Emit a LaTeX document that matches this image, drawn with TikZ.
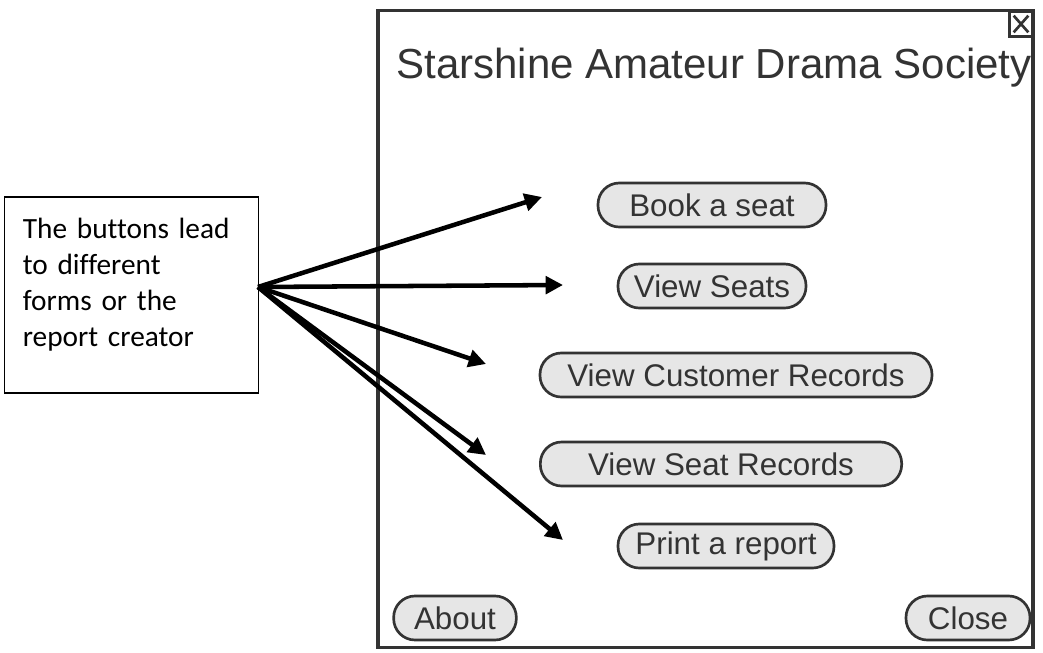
\documentclass[tikz,border=0pt]{standalone}
\usepackage{fontspec}
\setmainfont{Liberation Sans}
\newfontfamily\notefont[Ligatures=NoCommon]{Carlito}
\usetikzlibrary{arrows.meta}
\definecolor{uiline}{HTML}{333333}
\definecolor{uifill}{HTML}{E6E6E6}

\begin{document}
\begin{tikzpicture}[x=0.75pt,y=-0.75pt,
  frame/.style={draw=uiline,line width=2.6pt,minimum width=491pt,minimum height=478pt},
  button/.style={draw=uiline,fill=uifill,line width=2pt,rounded corners=16pt,minimum height=33pt,
    text=uiline,font=\fontsize{23.5}{27}\selectfont,inner sep=0pt},
  note/.style={draw,line width=0.8pt,minimum width=190pt,minimum height=147pt,text width=163pt,
    align=left,font=\notefont\fontsize{22}{27}\selectfont,inner xsep=13pt},
  pointer/.style={line width=3.4pt,-{Triangle[length=13pt,width=13pt]}}]
  \useasboundingbox (0,0) rectangle (1043,653);
  \node[frame] (window) at (705.5,329) {};
  \node[draw=uiline,line width=2.4pt,minimum width=17pt,minimum height=18.5pt,inner sep=0pt,
    path picture={\draw[uiline,line width=2pt]
      ([shift={(3pt,-3pt)}]path picture bounding box.north west) -- ([shift={(-3pt,3pt)}]path picture bounding box.south east)
      ([shift={(-3pt,-3pt)}]path picture bounding box.north east) -- ([shift={(3pt,3pt)}]path picture bounding box.south west);}]
    (closex) at (1021,24) {};
  \node[text=uiline,font=\fontsize{31.5}{36}\selectfont] (title) at (714,68) {Starshine Amateur Drama Society};
  \node[button,minimum width=171pt] (book) at (712,205) {Book a seat};
  \node[button,minimum width=141pt] (seats) at (712,286) {View Seats};
  \node[button,minimum width=294pt] (customers) at (736,375) {View Customer Records};
  \node[button,minimum width=271pt] (seatrecords) at (721,464) {View Seat Records};
  \node[button,minimum width=162pt] (report) at (726,546) {Print a report};
  \node[button,minimum width=92pt] (about) at (455,618) {About};
  \node[button,minimum width=93pt] (close) at (968,618) {Close};
  \node[note] (note) at (131.5,295) {The buttons lead\\to different\\forms or the\\report creator\rule[-19pt]{0pt}{0pt}};
  \coordinate (src) at (258,287);
  \coordinate (tip1) at (542,197);
  \coordinate (tip2) at (563,285);
  \coordinate (tip3) at (486,364);
  \coordinate (tip4) at (486,455);
  \coordinate (tip5) at (563,540);
  \draw[pointer] (src) -- (tip1);
  \draw[pointer] (src) -- (tip2);
  \draw[pointer] (src) -- (tip3);
  \draw[pointer] (src) -- (tip4);
  \draw[pointer] (src) -- (tip5);
\end{tikzpicture}
\end{document}
